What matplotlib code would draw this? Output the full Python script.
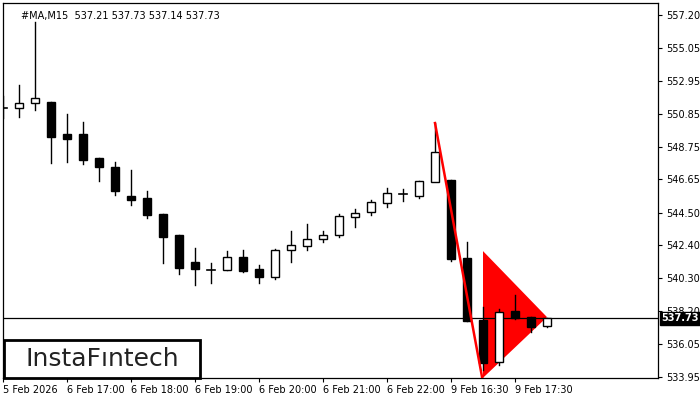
import matplotlib
matplotlib.use("Agg")
import matplotlib.pyplot as plt
from matplotlib.patches import Rectangle, Polygon

opens  = [551.2,551.23,551.57,551.61,549.56,549.56,548.02,547.44,545.57,545.45,544.42,543.07,541.34,540.83,540.83,541.66,540.89,540.37,542.11,542.36,542.81,543.07,544.25,544.57,545.15,545.7,545.59,546.49,546.6,541.6,537.61,534.93,538.19,537.79,537.21]
highs  = [552.0,552.70,556.75,551.61,550.84,550.33,548.02,547.76,547.25,545.9,544.42,543.07,542.24,541.27,542.04,542.11,541.14,542.17,543.33,543.78,543.33,544.42,544.71,545.32,546.09,546.02,546.54,550.26,546.6,542.62,538.45,538.32,539.22,537.79,537.73]
lows   = [550.6,550.65,551.1,547.7,547.76,547.63,546.54,545.64,545.0,544.16,541.27,540.57,539.86,539.99,540.83,540.7,539.99,540.24,541.34,542.11,542.62,542.94,543.58,544.36,544.87,545.25,545.45,546.54,541.4,537.55,534.4,534.72,537.67,536.84,537.14]
closes = [551.2,551.55,551.85,549.36,549.24,547.89,547.44,545.9,545.32,544.36,542.94,540.95,540.89,540.83,541.66,540.76,540.37,542.11,542.43,542.81,543.07,544.29,544.46,545.19,545.77,545.7,546.54,548.4,541.53,537.55,534.85,538.13,537.76,537.16,537.73]
yticks = [557.20,555.05,552.95,550.85,548.75,546.65,544.50,542.40,540.30,538.20,536.05,533.95]
xtick_pos = [0,4,8,12,16,20,24,28,32]
xtick_labels = ["5 Feb 2026","6 Feb 17:00","6 Feb 18:00","6 Feb 19:00","6 Feb 20:00","6 Feb 21:00","6 Feb 22:00","9 Feb 16:30","9 Feb 17:30"]
last_price = 537.73
flag_line = [(27, 550.26), (29.95, 533.9)]
pennant = [(30.0, 542.04), (30.0, 533.9), (34.0, 537.8)]

fig = plt.figure(figsize=(7, 4), dpi=100)
ax = fig.add_axes([3/700, 22/400, 655/700, 375/400])
ax.set_xlim(0, 655/16)
ax.set_ylim(533.89, 557.97)

ax.add_patch(Polygon(pennant, closed=True, facecolor="#ff0000", edgecolor="none", zorder=1))
ax.plot([p[0] for p in flag_line], [p[1] for p in flag_line], color="#ff0000", lw=1.8, zorder=4)

w = 0.55
for i, (o, h, l, c) in enumerate(zip(opens, highs, lows, closes)):
    ax.plot([i, i], [l, h], color="black", lw=1, zorder=2)
    bot, top = min(o, c), max(o, c)
    if abs(top - bot) < 0.05:
        ax.plot([i - w/2, i + w/2], [o, o], color="black", lw=1.2, zorder=3)
    else:
        fc = "white" if c > o else "black"
        ax.add_patch(Rectangle((i - w/2, bot), w, top - bot, facecolor=fc, edgecolor="black", lw=1, zorder=3))

ax.axhline(last_price, color="black", lw=0.9, zorder=2)

ax.yaxis.tick_right()
ax.set_yticks(yticks)
ax.set_yticklabels([f"{v:.2f}" for v in yticks], fontsize=7)
ax.set_xticks(xtick_pos)
ax.set_xticklabels(xtick_labels, fontsize=7, ha="left")
for lab in ax.get_xticklabels():
    lab.set_x(0)
ax.tick_params(axis="x", length=3, pad=2)
ax.tick_params(axis="y", length=3, pad=3)
for s in ax.spines.values():
    s.set_linewidth(0.9)

ax.text(1.005, (last_price - 533.89) / (557.97 - 533.89), f"{last_price:.2f}", transform=ax.transAxes,
        fontsize=7, color="white", va="center", ha="left", fontweight="bold",
        bbox=dict(boxstyle="square,pad=0.15", facecolor="black", edgecolor="black"), clip_on=False)

ax.text(18/655, 1 - 8/375, "#MA,M15  537.21 537.73 537.14 537.73", transform=ax.transAxes,
        fontsize=7, va="top", ha="left")

fig.patches.append(Rectangle((4/700, 22/400), 196/700, 38/400, transform=fig.transFigure,
                             facecolor="white", edgecolor="black", lw=2, zorder=10))
fig.text(102/700, 41/400, "InstaFıntech", fontsize=18, ha="center", va="center", color="#222222", zorder=11)

fig.savefig("out.png", dpi=100)
